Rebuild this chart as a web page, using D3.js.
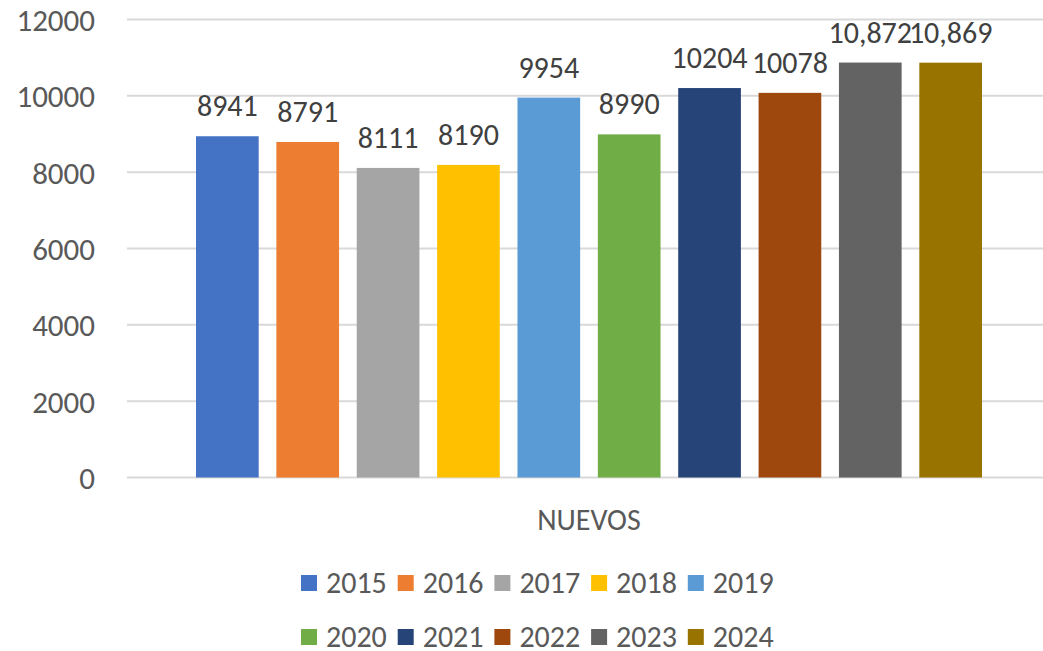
<!DOCTYPE html>
<html>
<head>
<meta charset="utf-8">
<script src="https://cdn.jsdelivr.net/npm/d3@7"></script>
<style>
  body { margin: 0; background: #fff; }
  svg text { font-family: Calibri, Carlito, "Open Sans", sans-serif; }
</style>
</head>
<body>
<svg id="chart"></svg>
<script>
// data
var years = ['2015', '2016', '2017', '2018', '2019', '2020', '2021', '2022', '2023', '2024'];
var values = [8941, 8791, 8111, 8190, 9954, 8990, 10204, 10078, 10872, 10869];
var labels = ['8941', '8791', '8111', '8190', '9954', '8990', '10204', '10078', '10,872', '10,869'];
var colors = ['#4472C4', '#ED7D31', '#A5A5A5', '#FFC000', '#5B9BD5', '#70AD47', '#264478', '#9E480E', '#636363', '#997300'];
var yTicks = [0, 2000, 4000, 6000, 8000, 10000, 12000];
var category = 'NUEVOS';

var width = 1043, height = 651;

var svg = d3.select('#chart')
	.attr('width', width)
	.attr('height', height);

var y = d3.scaleLinear().domain([0, 12000]).range([477.5, 19.5]);
var x = d3.scaleBand().domain(years).range([196, 982]).paddingInner(0.22).paddingOuter(0);

// gridlines
svg.append('g').selectAll('line').data(yTicks)
	.enter()
	.append('line')
	.attr('x1', 127)
	.attr('x2', width)
	.attr('y1', function(d) { return y(d); })
	.attr('y2', function(d) { return y(d); })
	.attr('stroke', '#d9d9d9')
	.attr('stroke-width', 2);

// y axis labels
var yAxis = d3.axisLeft(y).tickValues(yTicks).tickSize(0).tickPadding(0).tickFormat(d3.format('d'));
var gy = svg.append('g')
	.attr('transform', 'translate(95,0)')
	.call(yAxis);
gy.select('.domain').remove();
gy.selectAll('text')
	.attr('fill', '#595959')
	.style('font-size', '31px')
	.attr('dy', '0.35em');

// bars
svg.append('g').selectAll('rect').data(values)
	.enter()
	.append('rect')
	.attr('x', function(d, i) { return x(years[i]); })
	.attr('y', function(d) { return y(d); })
	.attr('width', x.bandwidth())
	.attr('height', function(d) { return y(0) - y(d); })
	.attr('fill', function(d, i) { return colors[i]; });

// value labels
svg.append('g').selectAll('text').data(values)
	.enter()
	.append('text')
	.attr('x', function(d, i) { return x(years[i]) + x.bandwidth() / 2; })
	.attr('y', function(d) { return y(d) - 20; })
	.attr('text-anchor', 'middle')
	.attr('fill', '#404040')
	.style('font-size', '30px')
	.text(function(d, i) { return labels[i]; });

// category label
svg.append('text')
	.attr('x', 589)
	.attr('y', 530)
	.attr('text-anchor', 'middle')
	.attr('fill', '#595959')
	.style('font-size', '30px')
	.text(category);

// legend, two rows of five
var legend = svg.append('g').selectAll('g').data(years)
	.enter()
	.append('g')
	.attr('transform', function(d, i) {
		return 'translate(' + (301 + (i % 5) * 96.7) + ',' + (583 + Math.floor(i / 5) * 54) + ')';
	});

legend.append('rect')
	.attr('x', 0)
	.attr('y', -8)
	.attr('width', 16)
	.attr('height', 16)
	.attr('fill', function(d, i) { return colors[i]; });

legend.append('text')
	.attr('x', 25)
	.attr('y', 10)
	.attr('fill', '#595959')
	.style('font-size', '30px')
	.text(function(d) { return d; });
</script>
</body>
</html>
